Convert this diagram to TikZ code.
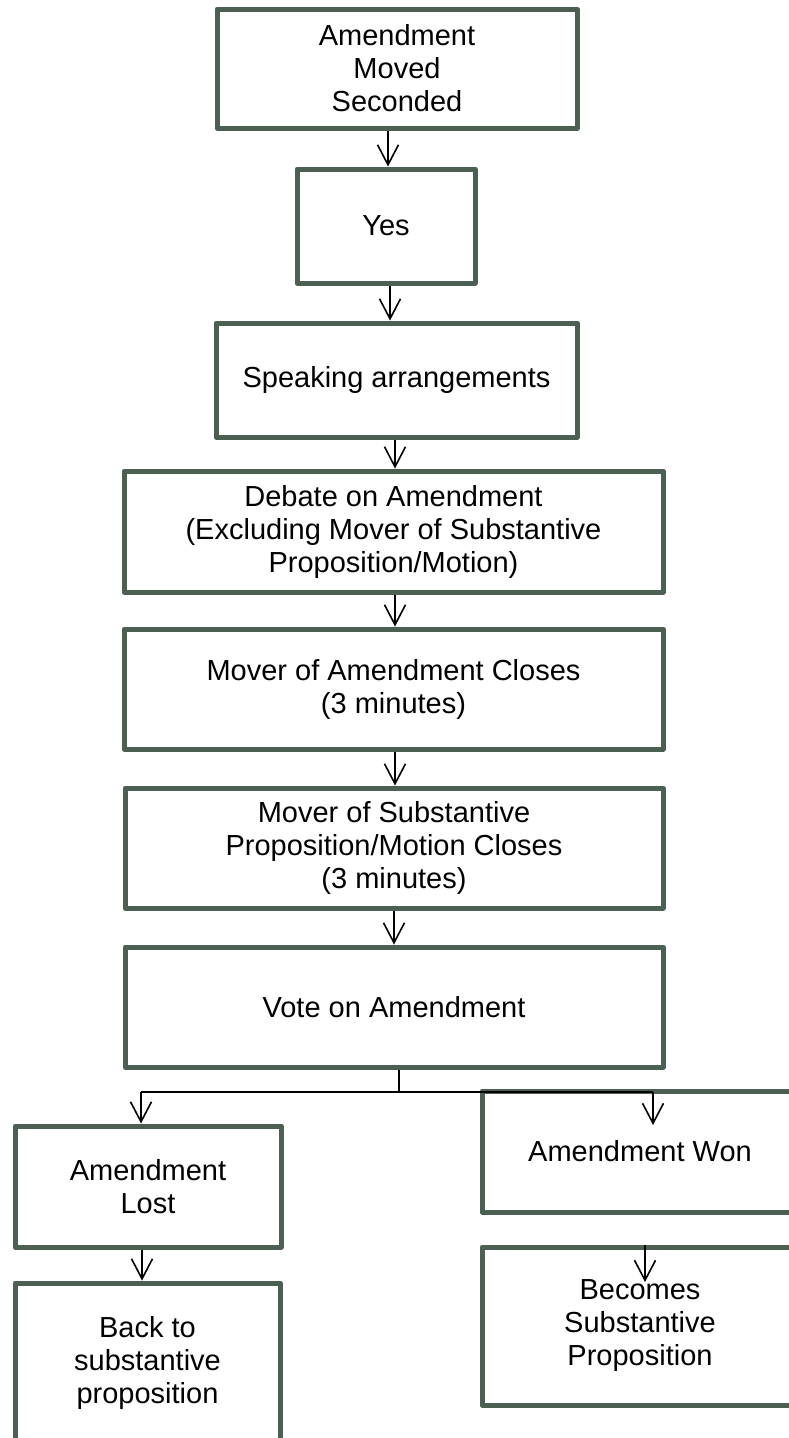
\documentclass[tikz,border=0pt]{standalone}
\usepackage{fontspec}
\setmainfont{Liberation Sans}
\usetikzlibrary{arrows.meta}
\definecolor{boxc}{RGB}{76,95,83}
\begin{document}
\begin{tikzpicture}[x=1pt,y=-1pt,
  box/.style={draw=boxc, line width=5pt, line join=round, fill=white, align=center, inner sep=0pt,
    font=\fontsize{29pt}{33pt}\selectfont},
  arr/.style={draw=black, line width=1.6pt, -{Straight Barb[length=20pt,width=21pt]}},
  ln/.style={draw=black, line width=1.6pt}]
\useasboundingbox (0,0) rectangle (789,1438);
\node[box, minimum width=360pt, minimum height=119pt] (B1) at (397,68.5) {Amendment\\Moved\\Seconded};
\node[box, minimum width=178pt, minimum height=114pt] (B2) at (386,226) {Yes};
\node[box, minimum width=361pt, minimum height=114pt] (B3) at (396.5,380) {Speaking arrangements};
\node[box, minimum width=539pt, minimum height=121pt] (B4) at (393.5,531.5) {Debate on Amendment\\(Excluding Mover of Substantive\\Proposition/Motion)};
\node[box, minimum width=539pt, minimum height=120pt] (B5) at (393.5,689) {Mover of Amendment Closes\\(3 minutes)};
\node[box, minimum width=538pt, minimum height=120pt] (B6) at (394,848) {Mover of Substantive\\Proposition/Motion Closes\\(3 minutes)};
\node[box, minimum width=538pt, minimum height=120pt] (B7) at (394,1007) {Vote on Amendment};
\node[box, minimum width=266pt, minimum height=121pt] (Lost) at (148,1186.5) {Amendment\\Lost};
\node[box, minimum width=265pt, minimum height=160pt] (Back) at (147.5,1363) {Back to\\substantive\\proposition};
\node[box, minimum width=316pt, minimum height=121pt] (Won) at (640,1151.5) {Amendment Won};
\node[box, minimum width=316pt, minimum height=158pt] (Becomes) at (640,1326) {Becomes\\Substantive\\Proposition};

\coordinate (x1) at (388,0);
\coordinate (x2) at (390,0);
\coordinate (x3) at (395,0);
\coordinate (x4) at (395,0);
\coordinate (x5) at (395,0);
\coordinate (x6) at (394,0);
\draw[arr] (B1.south -| x1) -- (B2.north -| x1);
\draw[arr] (B2.south -| x2) -- (B3.north -| x2);
\draw[arr] (B3.south -| x3) -- (B4.north -| x3);
\draw[arr] (B4.south -| x4) -- (B5.north -| x4);
\draw[arr] (B5.south -| x5) -- (B6.north -| x5);
\draw[arr] (B6.south -| x6) -- (B7.north -| x6);

\coordinate (j) at (399,1092);
\coordinate (jl) at (141,1092);
\coordinate (jr) at (653,1092);
\coordinate (wr) at (653,1125);
\coordinate (lb) at (142,0);
\coordinate (bx) at (645,1282);
\draw[ln] (B7.south -| j) -- (j);
\draw[ln] (jl) -- (jr);
\draw[arr] (jl) -- (Lost.north -| jl);
\draw[arr] (jr) -- (wr);
\draw[arr] (Lost.south -| lb) -- (Back.north -| lb);
\draw[arr] (Becomes.north -| bx) -- (bx);
\end{tikzpicture}
\end{document}
